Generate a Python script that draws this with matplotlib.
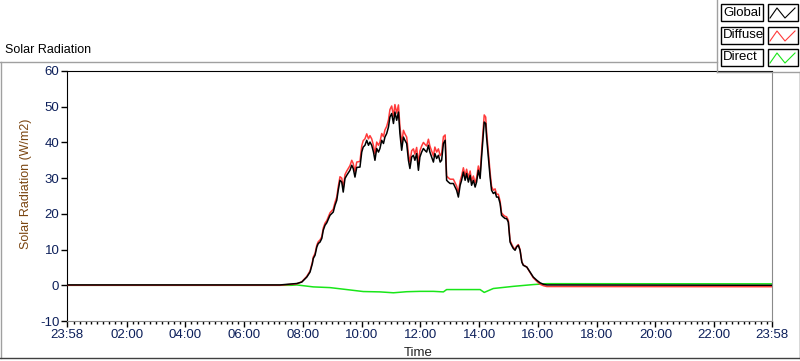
import numpy as np
import matplotlib.pyplot as plt
from matplotlib.lines import Line2D
from matplotlib.patches import Rectangle

plt.rcParams['axes.unicode_minus'] = False

# time of day in hours (23:58 of previous day = -2/60)
t_global = [-0.03, 7.22, 7.79, 7.96, 8.13, 8.24, 8.32, 8.35, 8.41, 8.47, 8.52, 8.58, 8.64, 8.69,
            8.75, 8.81, 8.92, 9.03, 9.09, 9.15, 9.20, 9.26, 9.32, 9.37, 9.43, 9.49, 9.60, 9.66,
            9.71, 9.77, 9.83, 9.94, 10.00, 10.05, 10.11, 10.17, 10.23, 10.28, 10.34, 10.40, 10.45,
            10.51, 10.57, 10.62, 10.68, 10.74, 10.79, 10.85, 10.91, 10.96, 11.02, 11.08, 11.13,
            11.19, 11.25, 11.30, 11.36, 11.42, 11.47, 11.53, 11.59, 11.64, 11.70, 11.76, 11.81,
            11.87, 11.93, 11.98, 12.04, 12.10, 12.15, 12.21, 12.27, 12.32, 12.38, 12.44, 12.49,
            12.55, 12.61, 12.67, 12.72, 12.78, 12.84, 12.89, 12.95, 13.01, 13.12, 13.18, 13.23,
            13.29, 13.35, 13.40, 13.46, 13.52, 13.57, 13.63, 13.69, 13.74, 13.80, 13.86, 13.91,
            13.97, 14.03, 14.08, 14.14, 14.17, 14.22, 14.25, 14.31, 14.37, 14.42, 14.48, 14.54,
            14.59, 14.65, 14.71, 14.76, 14.82, 14.88, 14.93, 14.99, 15.05, 15.10, 15.16, 15.22,
            15.27, 15.33, 15.39, 15.45, 15.50, 15.62, 15.73, 15.84, 15.96, 16.07, 16.18, 16.30,
            23.97]

global_rad = [0.1, 0.1, 0.5, 0.9, 2.3, 3.7, 6.1, 7.5, 8.4, 10.7, 11.7, 12.1, 13.1, 15.4,
              16.8, 17.5, 19.6, 20.5, 22.4, 23.8, 26.6, 29.4, 28.9, 26.1, 29.9, 30.8, 32.2, 33.6,
              32.7, 30.3, 33.0, 33.1, 37.3, 38.7, 39.2, 40.6, 39.2, 40.1, 39.2, 37.3, 35.0,
              38.3, 37.3, 38.3, 40.6, 39.7, 41.5, 42.5, 44.3, 47.1, 48.1, 45.3, 48.5,
              46.2, 48.5, 42.5, 37.8, 41.5, 40.6, 39.7, 35.0, 32.7, 35.9, 36.4, 35.0,
              36.9, 32.2, 35.9, 37.3, 38.3, 37.8, 37.3, 39.2, 37.3, 35.9, 34.5, 36.9,
              35.5, 36.4, 34.5, 35.0, 39.7, 40.6, 29.4, 28.9, 28.5, 28.5, 27.5, 26.6,
              24.7, 28.0, 29.4, 31.7, 29.4, 31.3, 28.9, 30.8, 28.0, 29.4, 27.5, 28.9,
              32.2, 29.9, 35.9, 42.5, 45.7, 45.3, 41.5, 35.9, 30.3, 26.6, 25.7, 26.1,
              24.7, 24.7, 22.9, 19.6, 19.1, 18.7, 18.7, 17.7, 12.1, 11.2, 10.3, 9.8,
              10.7, 11.2, 9.8, 6.5, 5.6, 5.1, 3.7, 2.3, 1.4, 0.7, 0.3, 0.1,
              0.0]

diffuse_rad = [0.0, 0.0, 0.4, 1.0, 2.5, 4.0, 6.5, 7.9, 8.9, 11.2, 12.2, 12.7, 13.6, 16.0,
               17.4, 18.1, 20.3, 21.3, 23.2, 24.7, 27.6, 30.4, 30.0, 27.2, 31.0, 32.0, 33.5, 35.0,
               34.1, 31.8, 34.5, 34.7, 39.0, 40.5, 41.0, 42.4, 41.0, 41.9, 41.0, 39.1, 36.8,
               40.1, 39.2, 40.1, 42.5, 41.6, 43.5, 44.5, 46.3, 49.2, 50.2, 47.4, 50.6,
               48.2, 50.5, 44.5, 39.7, 43.4, 42.4, 41.5, 36.8, 34.5, 37.7, 38.2, 36.7,
               38.6, 33.9, 37.6, 39.0, 40.0, 39.5, 39.0, 40.9, 39.0, 37.6, 36.2, 38.7,
               37.3, 38.2, 36.3, 36.9, 41.6, 42.1, 30.6, 30.1, 29.7, 29.7, 28.7, 27.8,
               25.9, 29.2, 30.6, 32.9, 30.6, 32.5, 30.1, 32.0, 29.2, 30.6, 28.7, 30.1,
               33.4, 31.1, 37.4, 44.3, 47.7, 47.1, 43.1, 37.4, 31.6, 27.7, 26.6, 27.0,
               25.5, 25.5, 23.6, 20.3, 19.7, 19.3, 19.2, 18.2, 12.5, 11.6, 10.6, 10.1,
               10.9, 11.4, 10.0, 6.6, 5.7, 5.1, 3.6, 2.1, 1.1, 0.3, -0.1, -0.35,
               -0.4]

t_direct = [-0.03, 7.6, 7.79, 8.35, 8.92, 9.49, 10.05, 10.62, 11.08, 11.53, 11.98, 12.44,
            12.78, 12.89, 13.57, 14.03, 14.17, 14.48, 15.16, 15.84, 16.30, 23.97]
direct_rad = [0.0, 0.0, 0.1, -0.45, -0.65, -1.2, -1.75, -1.85, -2.1, -1.8, -1.7, -1.7,
              -1.85, -1.2, -1.2, -1.2, -2.0, -0.9, -0.3, 0.2, 0.45, 0.4]

x_ticks = [-2 / 60, 2, 4, 6, 8, 10, 12, 14, 16, 18, 20, 22, 24 - 2 / 60]
x_labels = ['23:58', '02:00', '04:00', '06:00', '08:00', '10:00', '12:00',
            '14:00', '16:00', '18:00', '20:00', '22:00', '23:58']
y_ticks = [-10, 0, 10, 20, 30, 40, 50, 60]

series = ['Global', 'Diffuse', 'Direct']
colors = ['black', '#ff3a3a', '#19e619']

narrow = ['Liberation Sans Narrow', 'Liberation Sans', 'DejaVu Sans']
plain = ['Liberation Sans', 'DejaVu Sans']

W, H = 800, 361
fig = plt.figure(figsize=(W / 100, H / 100), dpi=100)
fs = 9
tick_col = '#0c1f5a'

ax = fig.add_axes([67 / W, 1 - 321 / H, 705 / W, 250 / H])
ax.plot(t_direct, direct_rad, color=colors[2], lw=1.1, zorder=2)
ax.plot(t_global, diffuse_rad, color=colors[1], lw=1.1, zorder=3)
ax.plot(t_global, global_rad, color=colors[0], lw=1.1, zorder=4)

ax.set_xlim(-2 / 60, 24 - 2 / 60)
ax.set_ylim(-10, 60)
ax.set_xticks(x_ticks)
ax.set_xticklabels(x_labels)
ax.set_xticks([m * 0.2 for m in range(1, 120) if m % 10 != 0], minor=True)
ax.set_yticks(y_ticks)
ax.tick_params(axis='both', which='major', direction='out', length=4, width=1,
               labelsize=9.5, labelcolor=tick_col, pad=1.5)
ax.tick_params(axis='x', which='minor', direction='out', length=2, width=1)
for lab in ax.get_xticklabels() + ax.get_yticklabels():
    lab.set_family(narrow)
ax.spines['top'].set_color('black')
ax.spines['left'].set_color('black')
ax.spines['right'].set_color('#8a8a8a')
ax.spines['bottom'].set_color('#8a8a8a')

ax.set_ylabel('Solar Radiation (W/m2)', fontsize=fs, color='#7a4510', family=plain)
ax.yaxis.set_label_coords(-0.05, 0.548)
ax.set_xlabel('Time', fontsize=9.5, color='#222222', family=narrow)
ax.xaxis.set_label_coords(0.498, -0.102)

# panel frame and title
fig.add_artist(Line2D([0, 717 / W], [1 - 62 / H] * 2, color='#a0a0a0', lw=1))
fig.add_artist(Line2D([0.5 / W] * 2, [1 - 62 / H, 1 - 358 / H], color='#a0a0a0', lw=1))
fig.add_artist(Line2D([0, 1], [1 - 358 / H] * 2, color='#404040', lw=1))
fig.add_artist(Line2D([799.5 / W] * 2, [1 - 72 / H, 1 - 358 / H], color='#404040', lw=1))
fig.text(5 / W, 1 - 50 / H, 'Solar Radiation', fontsize=fs, va='center', ha='left',
         family=plain)

# legend panel (LabVIEW style)
fig.add_artist(Line2D([717 / W] * 2, [1, 1 - 72 / H], color='#a0a0a0', lw=1))
fig.add_artist(Line2D([717 / W, 1], [1 - 72 / H] * 2, color='#a0a0a0', lw=1))
tops = [4, 27, 49]
for name, col, top in zip(series, colors, tops):
    h = 17
    fig.add_artist(Rectangle((721 / W, 1 - (top + h) / H), 42 / W, h / H,
                             fill=False, ec='black', lw=1))
    fig.text(723 / W, 1 - (top + h / 2) / H, name, fontsize=9.5, va='center', ha='left',
             family=plain)
    fig.add_artist(Rectangle((768 / W, 1 - (top + h) / H), 30 / W, h / H,
                             fill=False, ec='black', lw=1))
    zx = np.array([770, 777, 785, 795]) / W
    zy = 1 - (top + np.array([14, 4, 14, 4])) / H
    fig.add_artist(Line2D(zx, zy, color=col, lw=0.8))

fig.savefig('out.png', dpi=100)
